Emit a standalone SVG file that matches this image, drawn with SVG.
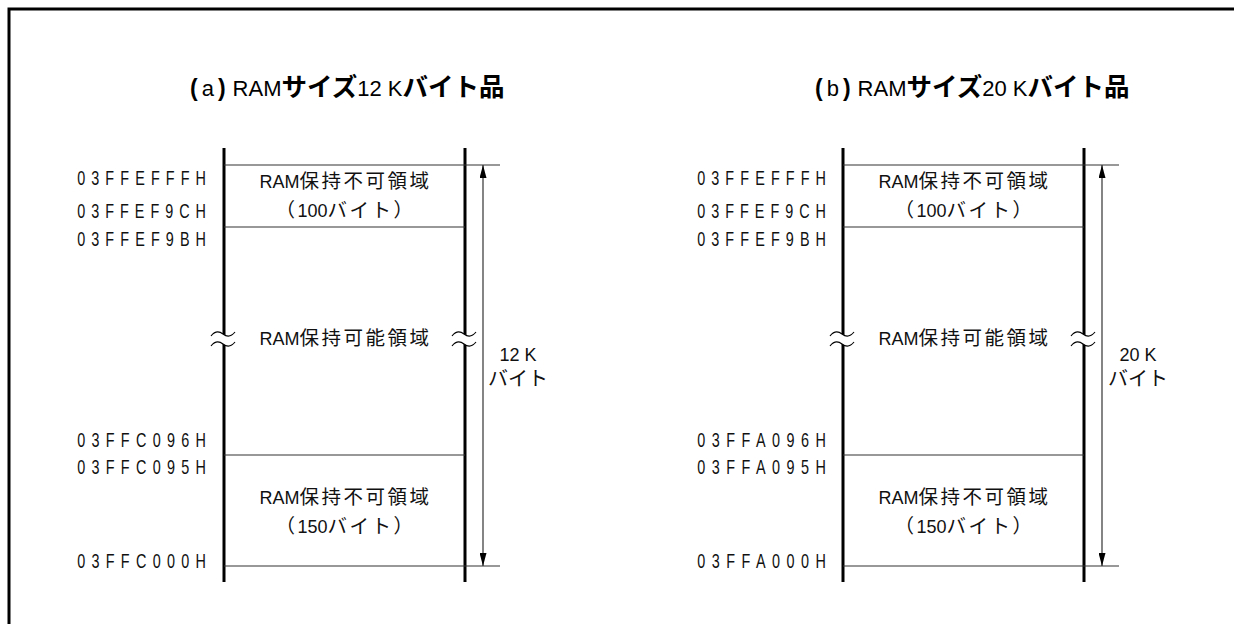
<svg xmlns="http://www.w3.org/2000/svg" width="1234" height="624" viewBox="0 0 1234 624">
<defs>
<style>
.frame{stroke:#000;stroke-width:3;fill:none}
.bar{stroke:#000;stroke-width:3;fill:none}
.hl{stroke:#333;stroke-width:1.2;fill:none}
.dim{stroke:#333;stroke-width:1.2;fill:none}
.addr{font-family:"Liberation Sans","Noto Sans",sans-serif;font-size:20px;fill:#111}
.lbl{font-family:"Liberation Sans","Noto Sans CJK JP",sans-serif;font-size:18px;fill:#111}
.cjk{font-family:"Noto Sans CJK JP",sans-serif;font-size:19.5px;letter-spacing:2.5px}
.cjks{font-family:"Noto Sans CJK JP",sans-serif;font-size:20px}
.title{font-family:"Liberation Sans","Noto Sans CJK JP",sans-serif;font-size:22px;fill:#000}
.tb{font-family:"Noto Sans CJK JP",sans-serif;font-weight:bold;font-size:25.5px}
.tp{font-family:"Liberation Sans",sans-serif;font-weight:bold;font-size:23px}
.brk{fill:#fff;stroke:none}
.brkl{fill:none;stroke:#000;stroke-width:1.2}
</style>
<marker id="ah" viewBox="0 0 13 7" refX="13" refY="3.5" markerWidth="13" markerHeight="7" markerUnits="userSpaceOnUse" orient="auto-start-reverse">
<path d="M0,0 L13,3.5 L0,7 Z" fill="#000"/>
</marker>
</defs>
<rect width="1234" height="624" fill="#fff"/>
<path class="frame" d="M9,624 V9 H1234"/>

<g id="title-a">
<text class="title" x="190" y="96"><tspan class="tp">(</tspan><tspan dx="4">a</tspan><tspan class="tp" dx="4">)</tspan><tspan dx="7">RAM</tspan><tspan class="tb">サイズ</tspan>12 K<tspan class="tb">バイト品</tspan></text>
</g>
<g id="title-b">
<text class="title" x="815" y="96"><tspan class="tp">(</tspan><tspan dx="4">b</tspan><tspan class="tp" dx="4">)</tspan><tspan dx="7">RAM</tspan><tspan class="tb">サイズ</tspan>20 K<tspan class="tb">バイト品</tspan></text>
</g>

<!-- Left memory map -->
<g id="map-a">
<path class="bar" d="M224,148 V582 M465,148 V582"/>
<path class="hl" d="M224,165 H500 M224,227 H465 M224,455 H465 M224,566 H500"/>
</g>
<g id="break-a">
<path class="brk" d="M211,336 c4,-5 8,-5 12,-2 s8,3 12,-2 v10 c-4,5 -8,5 -12,2 s-8,-3 -12,2 z"/>
<path class="brkl" d="M211,336 c4,-5 8,-5 12,-2 s8,3 12,-2 M211,346 c4,-5 8,-5 12,-2 s8,3 12,-2"/>
<path class="brk" d="M452,336 c4,-5 8,-5 12,-2 s8,3 12,-2 v10 c-4,5 -8,5 -12,2 s-8,-3 -12,2 z"/>
<path class="brkl" d="M452,336 c4,-5 8,-5 12,-2 s8,3 12,-2 M452,346 c4,-5 8,-5 12,-2 s8,3 12,-2"/>
</g>
<g id="addr-a">
<text class="addr" text-anchor="end" textLength="179" lengthAdjust="spacing" transform="translate(206,185) scale(0.72,1)">03FFEFFFH</text>
<text class="addr" text-anchor="end" textLength="179" lengthAdjust="spacing" transform="translate(206,218) scale(0.72,1)">03FFEF9CH</text>
<text class="addr" text-anchor="end" textLength="179" lengthAdjust="spacing" transform="translate(206,246) scale(0.72,1)">03FFEF9BH</text>
<text class="addr" text-anchor="end" textLength="179" lengthAdjust="spacing" transform="translate(206,447) scale(0.72,1)">03FFC096H</text>
<text class="addr" text-anchor="end" textLength="179" lengthAdjust="spacing" transform="translate(206,474) scale(0.72,1)">03FFC095H</text>
<text class="addr" text-anchor="end" textLength="179" lengthAdjust="spacing" transform="translate(206,568) scale(0.72,1)">03FFC000H</text>
</g>
<g id="area-a1">
<text class="lbl" x="345.5" y="188" text-anchor="middle">RAM<tspan class="cjk">保持不可領域</tspan></text>
<text class="lbl" x="345.5" y="216.5" text-anchor="middle"><tspan class="cjk">（</tspan>100<tspan class="cjk">バイト）</tspan></text>
</g>
<g id="area-a2">
<text class="lbl" x="345.5" y="345" text-anchor="middle">RAM<tspan class="cjk">保持可能領域</tspan></text>
</g>
<g id="area-a3">
<text class="lbl" x="345.5" y="504" text-anchor="middle">RAM<tspan class="cjk">保持不可領域</tspan></text>
<text class="lbl" x="345.5" y="532.5" text-anchor="middle"><tspan class="cjk">（</tspan>150<tspan class="cjk">バイト）</tspan></text>
</g>
<g id="size-a">
<text class="lbl" x="518" y="361" text-anchor="middle">12 K</text>
<text class="lbl" x="518" y="386" text-anchor="middle"><tspan class="cjks">バイト</tspan></text>
</g>

<!-- Right memory map -->
<g id="map-b">
<path class="bar" d="M843,148 V582 M1084,148 V582"/>
<path class="hl" d="M843,165 H1119 M843,227 H1084 M843,455 H1084 M843,566 H1119"/>
</g>
<g id="break-b">
<path class="brk" d="M830,336 c4,-5 8,-5 12,-2 s8,3 12,-2 v10 c-4,5 -8,5 -12,2 s-8,-3 -12,2 z"/>
<path class="brkl" d="M830,336 c4,-5 8,-5 12,-2 s8,3 12,-2 M830,346 c4,-5 8,-5 12,-2 s8,3 12,-2"/>
<path class="brk" d="M1071,336 c4,-5 8,-5 12,-2 s8,3 12,-2 v10 c-4,5 -8,5 -12,2 s-8,-3 -12,2 z"/>
<path class="brkl" d="M1071,336 c4,-5 8,-5 12,-2 s8,3 12,-2 M1071,346 c4,-5 8,-5 12,-2 s8,3 12,-2"/>
</g>
<g id="addr-b">
<text class="addr" text-anchor="end" textLength="179" lengthAdjust="spacing" transform="translate(826,185) scale(0.72,1)">03FFEFFFH</text>
<text class="addr" text-anchor="end" textLength="179" lengthAdjust="spacing" transform="translate(826,218) scale(0.72,1)">03FFEF9CH</text>
<text class="addr" text-anchor="end" textLength="179" lengthAdjust="spacing" transform="translate(826,246) scale(0.72,1)">03FFEF9BH</text>
<text class="addr" text-anchor="end" textLength="179" lengthAdjust="spacing" transform="translate(826,447) scale(0.72,1)">03FFA096H</text>
<text class="addr" text-anchor="end" textLength="179" lengthAdjust="spacing" transform="translate(826,474) scale(0.72,1)">03FFA095H</text>
<text class="addr" text-anchor="end" textLength="179" lengthAdjust="spacing" transform="translate(826,568) scale(0.72,1)">03FFA000H</text>
</g>
<g id="area-b1">
<text class="lbl" x="964.5" y="188" text-anchor="middle">RAM<tspan class="cjk">保持不可領域</tspan></text>
<text class="lbl" x="964.5" y="216.5" text-anchor="middle"><tspan class="cjk">（</tspan>100<tspan class="cjk">バイト）</tspan></text>
</g>
<g id="area-b2">
<text class="lbl" x="964.5" y="345" text-anchor="middle">RAM<tspan class="cjk">保持可能領域</tspan></text>
</g>
<g id="area-b3">
<text class="lbl" x="964.5" y="504" text-anchor="middle">RAM<tspan class="cjk">保持不可領域</tspan></text>
<text class="lbl" x="964.5" y="532.5" text-anchor="middle"><tspan class="cjk">（</tspan>150<tspan class="cjk">バイト）</tspan></text>
</g>
<g id="size-b">
<text class="lbl" x="1138" y="361" text-anchor="middle">20 K</text>
<text class="lbl" x="1138" y="386" text-anchor="middle"><tspan class="cjks">バイト</tspan></text>
</g>

<g id="connectors">
<line class="dim" x1="483" y1="165" x2="483" y2="566" marker-start="url(#ah)" marker-end="url(#ah)"/>
<line class="dim" x1="1102" y1="165" x2="1102" y2="566" marker-start="url(#ah)" marker-end="url(#ah)"/>
</g>
</svg>
